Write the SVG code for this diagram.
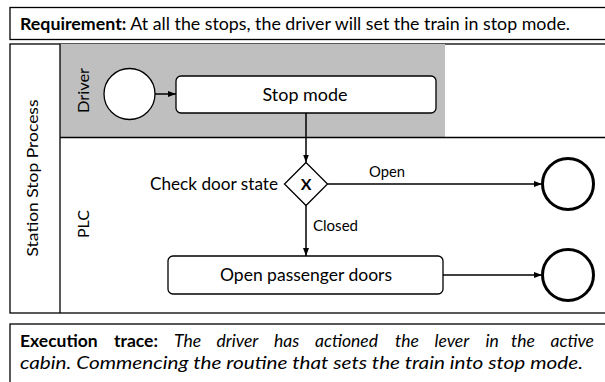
<svg xmlns="http://www.w3.org/2000/svg" width="605" height="382" viewBox="0 0 605 382">
<style>
text{font-family:Lato,"Open Sans","Liberation Sans",sans-serif;fill:#000}
.frame{fill:#fff;stroke:#000;stroke-width:1.3}
.task{fill:#fff;stroke:#000;stroke-width:1.3}
.flow{fill:none;stroke:#000;stroke-width:1.5}
.end{fill:#fff;stroke:#000;stroke-width:3}
.lbl{font-size:17.5px}
.sm{font-size:16px}
.it{font-style:italic}
.b{font-weight:bold}
</style>
<defs>
<marker id="arr" viewBox="0 0 8 6" refX="8" refY="3" markerWidth="8" markerHeight="6" markerUnits="userSpaceOnUse" orient="auto">
<path d="M0,0 L8,3 L0,6 z" fill="#000"/>
</marker>
</defs>
<rect width="605" height="382" fill="#fff"/>
<g id="requirement">
<rect class="frame" x="10" y="7.5" width="600" height="32"/>
<text x="20" y="29.5" font-size="17" textLength="550" lengthAdjust="spacingAndGlyphs"><tspan class="b">Requirement:</tspan> At all the stops, the driver will set the train in stop mode.</text>
</g>
<g id="pool">
<rect class="frame" x="10" y="44" width="600" height="269"/>
<rect x="60" y="44" width="385" height="93.5" fill="#bfbfbf"/>
<line x1="60" y1="44" x2="60" y2="313" stroke="#000" stroke-width="1.3"/>
<line x1="60" y1="137.5" x2="605" y2="137.5" stroke="#000" stroke-width="1.5"/>
<text class="sm" transform="translate(38,178) rotate(-90)" text-anchor="middle" textLength="157" lengthAdjust="spacingAndGlyphs">Station Stop Process</text>
</g>
<g id="lane-driver">
<text class="sm" transform="translate(88.5,90.5) rotate(-90)" text-anchor="middle" textLength="45" lengthAdjust="spacingAndGlyphs">Driver</text>
</g>
<g id="lane-plc">
<text class="sm" transform="translate(88.5,224) rotate(-90)" text-anchor="middle" textLength="28" lengthAdjust="spacingAndGlyphs">PLC</text>
</g>
<g id="start">
<circle cx="129.5" cy="94" r="25.5" fill="#fff" stroke="#000" stroke-width="1.3"/>
</g>
<g id="stop-mode">
<rect class="task" x="176" y="76" width="260" height="37" rx="5"/>
<text class="lbl" x="305" y="100.5" text-anchor="middle" textLength="85" lengthAdjust="spacingAndGlyphs">Stop mode</text>
</g>
<g id="gateway">
<path d="M306,162.5 L327.5,184 L306,205.5 L284.5,184 z" fill="#fff" stroke="#000" stroke-width="1.3"/>
<text x="306" y="190" text-anchor="middle" font-size="16" font-weight="bold">X</text>
<text class="lbl" x="278" y="190" text-anchor="end" textLength="128" lengthAdjust="spacingAndGlyphs">Check door state</text>
</g>
<g id="open-doors">
<rect class="task" x="168" y="256" width="275" height="38" rx="5"/>
<text class="lbl" x="306" y="281" text-anchor="middle" textLength="172" lengthAdjust="spacingAndGlyphs">Open passenger doors</text>
</g>
<g id="end1">
<circle class="end" cx="568" cy="184" r="25.5"/>
</g>
<g id="end2">
<circle class="end" cx="568" cy="275" r="25.5"/>
</g>
<g id="connectors">
<line class="flow" x1="155" y1="94" x2="176" y2="94" marker-end="url(#arr)"/>
<line class="flow" x1="306" y1="113" x2="306" y2="162.5" marker-end="url(#arr)"/>
<line class="flow" x1="327.5" y1="184" x2="542" y2="184" marker-end="url(#arr)"/>
<text class="sm" x="369" y="177" textLength="36" lengthAdjust="spacingAndGlyphs">Open</text>
<line class="flow" x1="306" y1="205.5" x2="306" y2="256" marker-end="url(#arr)"/>
<text class="sm" x="313" y="231" textLength="45" lengthAdjust="spacingAndGlyphs">Closed</text>
<line class="flow" x1="443" y1="275" x2="542" y2="275" marker-end="url(#arr)"/>
</g>
<g id="trace">
<rect class="frame" x="10" y="324" width="600" height="70"/>
<text font-size="17.5" y="347"><tspan x="20" class="b">Execution</tspan><tspan x="114" class="b">trace:</tspan><tspan x="174" class="it">The</tspan><tspan x="216.5" class="it">driver</tspan><tspan x="274" class="it">has</tspan><tspan x="315" class="it">actioned</tspan><tspan x="395" class="it">the</tspan><tspan x="434.5" class="it">lever</tspan><tspan x="485.5" class="it">in</tspan><tspan x="511" class="it">the</tspan></text>
<text font-size="17.5" y="347" x="594" text-anchor="end" class="it">active</text>
<text x="20" y="369" font-size="17.5" class="it" textLength="563" lengthAdjust="spacingAndGlyphs">cabin. Commencing the routine that sets the train into stop mode.</text>
</g>
</svg>
